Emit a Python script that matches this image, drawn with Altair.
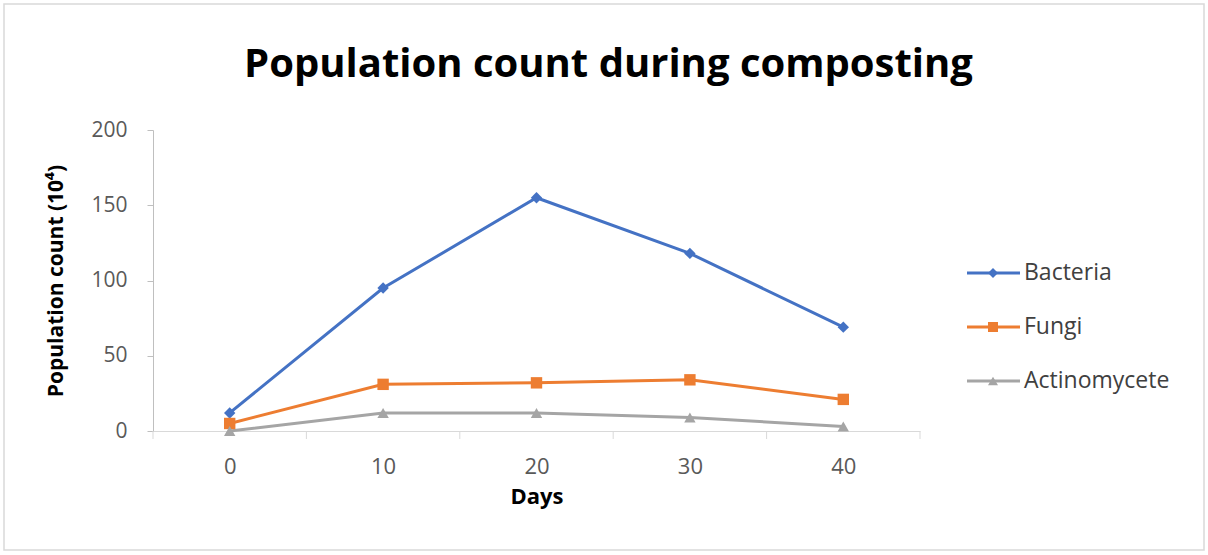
import altair as alt
import pandas as pd

days = [0, 10, 20, 30, 40]
series_names = ["Bacteria", "Fungi", "Actinomycete"]
bacteria = [12, 95, 155, 118, 69]
fungi = [5, 31, 32, 34, 21]
actinomycete = [0, 12, 12, 9, 3]
y_ticks = [0, 50, 100, 150, 200]
x_labels = [0, 10, 20, 30, 40]
x_tick_marks = [-5, 5, 15, 25, 35, 45]

colors = ["#4472C4", "#ED7D31", "#A5A5A5"]
shapes = ["diamond", "square", "triangle-up"]

rows = []
for name, vals in zip(series_names, [bacteria, fungi, actinomycete]):
    for d, v in zip(days, vals):
        rows.append({"Day": d, "Count": v, "Series": name})
df = pd.DataFrame(rows)

W, H = 767, 301
FONT = "Open Sans"
GRAY = "#bfbfbf"

x_scale = alt.Scale(domain=[-5, 45], nice=False, zero=False)
y_scale = alt.Scale(domain=[0, 200], nice=False)
color_scale = alt.Scale(domain=series_names, range=colors)
shape_scale = alt.Scale(domain=series_names, range=shapes)

x_axis = alt.Axis(values=x_labels, title="Days", grid=False, tickSize=0,
                  labelPadding=25, labelFont=FONT, labelFontSize=22,
                  labelColor="#595959", domainColor="#d9d9d9",
                  titleFont=FONT, titleFontSize=22, titleFontWeight="bold",
                  titleColor="#000000", titlePadding=9)
y_axis = alt.Axis(values=y_ticks, title="Population count (10⁴)", grid=False,
                  tickSize=6, tickColor=GRAY, domainColor=GRAY, labelPadding=20,
                  labelFont=FONT, labelFontSize=21, labelColor="#595959",
                  titleFont=FONT, titleFontSize=21, titleFontWeight="bold",
                  titleColor="#000000", titlePadding=24)

x_enc = alt.X("Day:Q", scale=x_scale, axis=x_axis)
y_enc = alt.Y("Count:Q", scale=y_scale, axis=y_axis)
color_enc = alt.Color("Series:N", scale=color_scale, legend=None)
shape_enc = alt.Shape("Series:N", scale=shape_scale, legend=None)

border = alt.Chart(pd.DataFrame({"a": [0]})).mark_rect(
    fill=None, stroke="#d9d9d9", strokeWidth=1.5
).encode(x=alt.value(-149), x2=alt.value(1051), y=alt.value(-126), y2=alt.value(420))

ticks = alt.Chart(pd.DataFrame({"Day": x_tick_marks})).mark_rule(
    color="#d9d9d9", strokeWidth=1
).encode(x=x_enc, y=alt.value(H), y2=alt.value(H + 8))

lines = alt.Chart(df).mark_line(strokeWidth=3).encode(
    x=x_enc, y=y_enc, color=color_enc
)
points = alt.Chart(df).mark_point(filled=True, size=130, opacity=1).encode(
    x=x_enc, y=y_enc, color=color_enc, shape=shape_enc
)

main = alt.layer(border, ticks, lines, points)

leg_df = pd.DataFrame({"Series": series_names})
leg_y = alt.Y("Series:N",
              scale=alt.Scale(type="point", domain=series_names, range=[143, 251], padding=0),
              axis=None)
leg_rule = alt.Chart(leg_df).mark_rule(strokeWidth=3).encode(
    x=alt.value(814), x2=alt.value(867), y=leg_y, color=color_enc
)
leg_pt = alt.Chart(leg_df).mark_point(filled=True, size=100, opacity=1).encode(
    x=alt.value(840), y=leg_y, color=color_enc, shape=shape_enc
)
leg_txt = alt.Chart(leg_df).mark_text(
    align="left", baseline="middle", font=FONT, fontSize=23, color="#404040"
).encode(x=alt.value(871), y=leg_y, text="Series:N")
legend = alt.layer(leg_rule, leg_pt, leg_txt)

chart = alt.layer(main, legend).resolve_scale(y="independent").properties(
    width=W, height=H,
    title=alt.TitleParams("Population count during composting", font=FONT,
                          fontSize=40, fontWeight="bold", color="#000000",
                          anchor="middle", dx=72, baseline="alphabetic", offset=-114),
    autosize=alt.AutoSizeParams(type="none"),
    padding={"left": 153, "top": 130, "right": 288, "bottom": 124},
    background="white",
).configure_view(stroke=None)

chart.save("out.html", embed_options={"renderer": "svg", "actions": False})
